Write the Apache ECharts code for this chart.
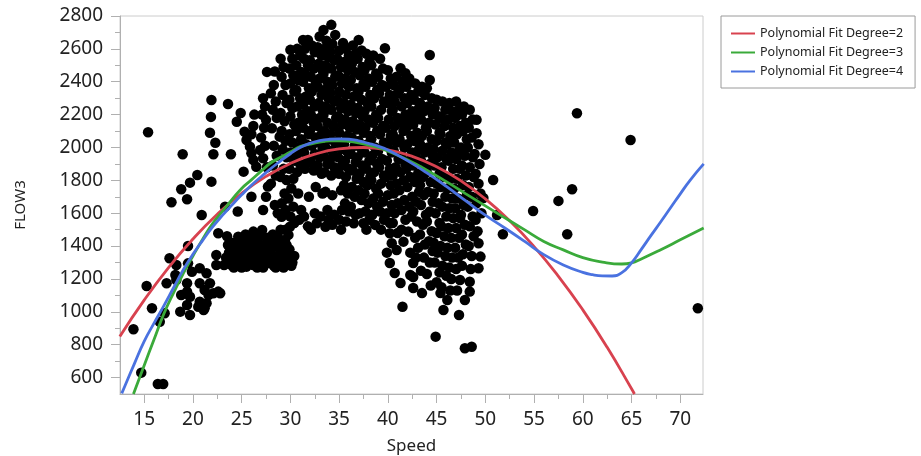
<!DOCTYPE html>
<html><head><meta charset="utf-8">
<script src="https://cdn.jsdelivr.net/npm/echarts@6/dist/echarts.min.js"></script>
<style>html,body{margin:0;padding:0;background:#fff}#c{width:921px;height:456px}</style>
</head><body><div id="c"></div>
<script>
// ---- tick values ----
const xTicks = [15,20,25,30,35,40,45,50,55,60,65,70];
const xMinorTicks = [17.5,22.5,27.5,32.5,37.5,42.5,47.5,52.5,57.5,62.5,67.5];
const yTicks = [600,800,1000,1200,1400,1600,1800,2000,2200,2400,2600,2800];
const yMinorTicks = [700,900,1100,1300,1500,1700,1900,2100,2300,2500,2700];

// ---- scatter points [Speed, FLOW3] ----
const leftPts = [[13.9,894],[14.7,630],[16.4,561],[16.95,561],[15.25,1157],[15.8,1022],[15.4,2093],[16.6,940],[17.1,991],[17.3,1174],[17.6,1326],[17.8,1667],[18.3,1194],[18.3,1285],[18.2,1224],[18.7,1001],[18.8,1102],[18.8,1746],[18.95,1959],[19.4,1123],[19.4,1042],[19.4,1174],[19.4,1685],[19.5,1401],[19.5,1295],[19.7,981],[19.7,1092],[19.7,1786],[19.9,1244],[20.45,1833],[20.7,1062],[20.7,1174],[20.7,1265],[20.9,1589],[21.1,1011],[21.2,1022],[21.2,1133],[21.4,1235],[21.4,1052],[21.6,1102],[21.75,1174],[21.75,2090],[21.85,2186],[21.9,2289],[21.9,1792],[22.1,1959],[22.1,1113],[22.3,2029],[22.4,1346],[22.4,1285],[22.6,1478],[22.6,1123],[22.8,1113],[20.55,1031]];
const lowLobePts = [[23.2,1285],[23.6,1407],[23.4,1330],[24.1,1356],[23.95,1285],[24.4,1295],[24.8,1417],[24.65,1457],[24.9,1376],[24.3,1320],[24.8,1295],[25.5,1275],[25.7,1356],[25.2,1376],[25.5,1437],[25.1,1300],[25.8,1410],[25.4,1470],[26.2,1285],[26.5,1336],[26.5,1396],[26.2,1437],[26.2,1488],[26.4,1376],[26.8,1310],[26.9,1460],[26.9,1295],[27.6,1295],[27.9,1366],[27.1,1498],[28.4,1427],[27.4,1330],[27.2,1270],[27.6,1450],[27.9,1376],[28.25,1316],[28.9,1295],[28.6,1396],[29.1,1356],[28.3,1280],[28.7,1460],[29.6,1295],[29.6,1336],[29.6,1407],[29.45,1437],[29.8,1468],[29.95,1518],[29.1,1579],[29.3,1270],[29.2,1370],[29.5,1500],[30.2,1300],[30.4,1340],[30.1,1280],
[23.5,1460],[23.8,1300],[24.0,1420],[24.3,1380],[24.6,1340],[25.0,1440],[25.3,1320],[25.9,1300],[26.0,1340],[26.7,1420],[26.0,1460],[27.0,1360],[27.3,1400],[27.7,1320],[28.0,1420],[28.2,1470],[28.6,1340],[28.9,1400],[29.3,1320],[29.9,1380],[29.0,1500],[28.5,1270],[26.6,1270],[25.0,1270],[24.2,1270],[23.7,1360]];
const midLeftPts = [[23.3,1640],[23.6,2265],[23.9,1959],[24.5,2157],[24.9,2210],[25.2,1853],[25.3,2096],[25.5,2046],[25.85,2005],[26.0,1965],[26.2,1924],[26.5,1883],[26.2,2131],[26.3,2200],[26.0,2080],[26.0,1700],[24.6,1610]];
const upperBlobPts = [
[27.2,2300],[27.4,2250],[27.1,2200],[27.5,2168],[27.3,2120],[27.6,2460],[27.0,2060],[27.4,2010],[27.2,1934],[27.6,1880],[26.9,1985],[27.7,1762],[27.5,1700],[27.2,1620],
[28.1,2117],[28.4,2462],[28.3,2380],[28.0,2330],[28.5,2280],[28.2,2230],[28.6,2180],[28.9,2066],[28.3,2010],[28.6,1950],[28.2,1890],[28.5,1830],[28.0,1780],[28.4,1650],[28.7,1600],
[29.0,2540],[29.3,2490],[29.1,2430],[29.5,2380],[29.2,2320],[29.6,2270],[29.0,2210],[29.4,2160],[29.1,2100],[29.5,2040],[29.2,1990],[29.6,1940],[29.3,1870],[29.0,1820],[29.6,1802],[29.4,1720],[29.1,1660],[29.5,1620],
[30.0,2594],[30.2,2540],[29.9,2480],[30.3,2440],[30.0,2390],[30.4,2340],[29.9,2290],[30.2,2240],[30.0,2190],[30.4,2140],[29.9,2080],[30.2,2030],[30.0,1970],[30.4,1920],[29.9,1870],[30.3,1810],[30.1,1750],[29.8,1690],[30.3,1640],[30.0,1580],[30.4,1540],
[30.7,2600],[31.0,2560],[30.6,2500],[31.1,2460],[30.8,2410],[30.6,2350],[31.0,2300],[30.7,2250],[31.2,2200],[30.8,2150],[30.6,2100],[31.1,2050],[30.8,2000],[30.6,1950],[31.0,1900],[30.7,1850],[30.8,1720],[31.1,1620],[30.9,1560],
[31.3,2654],[31.8,2654],[31.5,2600],[31.4,2540],[31.8,2500],[31.5,2450],[31.3,2400],[31.9,2360],[31.6,2310],[31.3,2260],[31.8,2220],[31.5,2170],[31.3,2120],[31.9,2080],[31.6,2020],[31.4,1970],[31.8,1920],[31.5,1870],[31.9,1700],[31.4,1580],[31.8,1520],
[32.2,2620],[32.5,2580],[32.0,2530],[32.4,2480],[32.1,2430],[32.6,2390],[32.2,2340],[32.0,2290],[32.5,2250],[32.1,2200],[32.4,2150],[32.0,2100],[32.6,2060],[32.2,2010],[32.5,1960],[32.1,1910],[32.4,1860],[32.6,1760],[32.5,1600],[32.7,1539],[32.1,1500],
[33.0,2675],[32.8,2610],[33.2,2560],[32.9,2510],[33.3,2470],[33.0,2420],[32.8,2370],[33.2,2320],[32.9,2270],[33.3,2230],[33.0,2180],[32.8,2130],[33.2,2080],[32.9,2030],[33.3,1990],[33.0,1940],[32.8,1890],[33.2,1840],[33.3,1720],[33.6,1518],[33.1,1580],
[33.4,2715],[33.7,2650],[33.5,2600],[33.9,2550],[33.6,2500],[33.4,2450],[33.8,2400],[33.5,2350],[33.9,2300],[33.6,2250],[33.4,2200],[33.8,2150],[33.5,2100],[33.9,2050],[33.6,2000],[33.4,1950],[33.8,1900],[33.5,1850],[33.6,1730],[33.8,1620],[33.9,1560],
[34.2,2746],[34.6,2685],[34.3,2630],[34.1,2580],[34.5,2530],[34.2,2480],[34.6,2430],[34.3,2380],[34.1,2330],[34.5,2280],[34.2,2230],[34.7,2180],[34.4,2130],[34.1,2080],[34.6,2030],[34.3,1980],[34.1,1930],[34.5,1880],[34.2,1830],[34.3,1710],[34.5,1590],[34.3,1530],
[35.4,2636],[35.0,2590],[34.8,2540],[35.2,2490],[34.9,2440],[35.3,2390],[35.0,2340],[34.8,2290],[35.2,2240],[34.9,2190],[35.3,2140],[35.0,2090],[34.8,2040],[35.2,1990],[34.9,1940],[35.3,1890],[35.0,1840],[35.2,1740],[35.3,1620],[35.0,1560],[35.2,1500]
];
const coreBlobPts = [
[35.7,2600],[36.0,2560],[35.5,2520],[35.9,2470],[35.6,2420],[36.0,2370],[35.7,2320],[35.5,2270],[35.9,2220],[35.6,2170],[36.1,2120],[35.8,2070],[35.5,2020],[35.9,1970],[35.6,1920],[36.0,1870],[35.7,1820],[35.5,1770],[35.9,1720],[35.6,1660],[36.0,1610],[35.7,1550],
[36.4,2620],[36.7,2570],[36.3,2510],[36.6,2460],[36.2,2410],[36.8,2360],[36.5,2310],[36.2,2260],[36.7,2210],[36.4,2160],[36.8,2110],[36.3,2060],[36.6,2010],[36.2,1960],[36.7,1910],[36.4,1860],[36.8,1810],[36.3,1760],[36.6,1700],[36.2,1640],[36.7,1590],[36.5,1539],
[37.0,2654],[37.3,2590],[36.9,2540],[37.4,2490],[37.1,2440],[37.5,2390],[37.0,2340],[37.3,2290],[36.9,2240],[37.4,2190],[37.1,2140],[37.5,2090],[37.0,2040],[37.3,1990],[36.9,1940],[37.4,1890],[37.1,1840],[37.5,1790],[37.0,1740],[37.3,1680],[37.5,1539],[37.1,1600],
[37.8,2570],[38.1,2520],[37.6,2470],[38.0,2420],[37.7,2370],[38.2,2320],[37.9,2270],[37.6,2220],[38.0,2170],[37.7,2120],[38.2,2070],[37.9,2020],[37.6,1970],[38.1,1920],[37.8,1870],[38.2,1820],[37.9,1770],[37.6,1720],[38.0,1660],[37.7,1610],[38.1,1560],[37.8,1500],
[38.5,2560],[38.3,2500],[38.8,2450],[38.4,2400],[38.9,2350],[38.6,2300],[38.3,2250],[38.8,2200],[38.5,2150],[38.9,2100],[38.3,2050],[38.7,2000],[38.4,1950],[38.9,1900],[38.6,1850],[38.3,1800],[38.8,1750],[38.5,1690],[38.9,1640],[38.4,1590],[38.7,1529],
[39.7,2604],[39.2,2540],[39.5,2480],[39.0,2430],[39.4,2380],[39.1,2330],[39.6,2280],[39.3,2230],[39.0,2180],[39.5,2130],[39.2,2080],[39.6,2030],[39.0,1980],[39.4,1930],[39.1,1880],[39.6,1830],[39.3,1780],[39.0,1720],[39.5,1670],[39.2,1610],[39.6,1560],[39.3,1500],
[40.0,2470],[40.3,2420],[39.8,2370],[40.2,2320],[39.9,2270],[40.4,2220],[40.1,2170],[39.8,2120],[40.3,2070],[40.0,2020],[40.4,1970],[39.9,1920],[40.2,1870],[39.8,1820],[40.3,1770],[40.0,1710],[40.4,1650],[39.9,1600],[40.2,1540],[40.2,1478],[40.4,1417],[39.9,1360],[40.2,1297],[40.7,1236],
[40.9,2431],[40.6,2380],[41.0,2330],[40.7,2280],[40.5,2230],[41.0,2180],[40.7,2130],[40.5,2080],[40.9,2030],[40.6,1980],[41.1,1930],[40.8,1880],[40.5,1830],[40.9,1780],[40.6,1720],[41.0,1660],[40.7,1600],[40.5,1540],[40.9,1376],[41.0,1480],
[41.3,2482],[41.8,2452],[41.5,2400],[41.2,2350],[41.7,2300],[41.4,2250],[41.8,2200],[41.3,2150],[41.6,2100],[41.2,2050],[41.7,2000],[41.4,1950],[41.8,1900],[41.3,1850],[41.6,1800],[41.2,1740],[41.7,1680],[41.4,1620],[41.8,1560],[41.6,1427],[41.3,1175],[41.5,1031],[41.4,1500],
[42.2,2420],[41.9,2370],[42.4,2320],[42.0,2270],[42.5,2220],[42.1,2170],[41.9,2120],[42.4,2070],[42.0,2020],[42.5,1970],[42.2,1920],[41.9,1870],[42.3,1820],[42.0,1760],[42.5,1700],[42.2,1640],[42.4,1580],[42.1,1488],[42.6,1297],[42.6,1212],[42.6,1145],[42.3,1224],[42.3,1360]
];
const rightLobePts = [
[42.8,2390],[43.1,2340],[42.7,2290],[43.2,2240],[42.9,2190],[42.6,2140],[43.0,2090],[42.7,2040],[43.2,1990],[42.9,1940],[42.6,1890],[43.1,1840],[42.8,1790],[43.2,1730],[42.9,1670],[42.6,1610],[43.0,1550],[42.8,1450],[43.1,1390],[42.9,1330],
[43.5,2370],[43.8,2320],[43.3,2270],[43.7,2220],[43.4,2170],[43.9,2120],[43.5,2070],[43.3,2020],[43.8,1970],[43.4,1920],[43.9,1870],[43.6,1820],[43.3,1770],[43.7,1710],[43.4,1650],[43.9,1590],[43.6,1530],[43.3,1470],[43.8,1410],[43.5,1114],[43.4,1250],[43.7,1330],
[44.3,2563],[44.3,2411],[44.0,2360],[44.5,2300],[44.1,2250],[44.6,2200],[44.2,2150],[44.0,2100],[44.5,2050],[44.1,2000],[44.6,1950],[44.3,1900],[44.0,1850],[44.4,1790],[44.1,1730],[44.6,1670],[44.3,1610],[44.0,1550],[44.5,1490],[44.2,1430],[44.6,1370],[44.3,1300],[44.0,1230],[44.4,1160],
[45.0,2290],[44.8,2240],[45.2,2190],[44.9,2140],[45.3,2090],[45.0,2040],[44.7,1990],[45.1,1940],[44.8,1890],[45.3,1840],[45.0,1780],[44.7,1720],[45.2,1660],[44.9,1600],[45.3,1540],[45.0,1480],[44.7,1420],[45.1,1360],[44.8,1300],[45.3,1240],[45.4,1114],[44.9,849],[45.0,1180],
[45.6,2280],[45.9,2230],[45.5,2180],[45.8,2130],[45.4,2080],[45.9,2030],[45.6,1980],[46.0,1930],[45.5,1880],[45.8,1820],[45.4,1760],[45.9,1700],[45.6,1640],[46.0,1580],[45.5,1520],[45.8,1460],[45.4,1400],[45.9,1340],[45.6,1280],[46.0,1220],[45.7,1011],[45.5,1150],
[46.3,2270],[46.6,2220],[46.2,2170],[46.7,2120],[46.4,2070],[46.1,2020],[46.5,1970],[46.2,1920],[46.7,1870],[46.4,1810],[46.1,1750],[46.6,1690],[46.3,1630],[46.7,1570],[46.2,1510],[46.5,1450],[46.1,1390],[46.6,1330],[46.3,1270],[46.1,1072],[46.5,1200],[46.4,1130],
[47.0,2280],[47.3,2230],[46.9,2180],[47.4,2130],[47.1,2080],[46.8,2030],[47.3,1980],[47.0,1930],[47.4,1870],[47.1,1810],[46.8,1750],[47.2,1690],[46.9,1630],[47.4,1570],[47.0,1510],[47.3,1450],[46.9,1390],[47.2,1330],[47.4,1194],[47.3,981],[47.0,1260],[47.1,1130],
[47.8,2250],[47.6,2200],[48.0,2150],[47.7,2100],[48.1,2050],[47.5,2000],[47.9,1950],[47.6,1890],[48.0,1830],[47.7,1770],[48.1,1710],[47.8,1650],[47.5,1590],[47.9,1530],[47.6,1470],[48.0,1410],[47.7,1350],[47.9,1072],[47.9,778],[47.6,1280],
[48.4,2230],[48.7,2170],[48.3,2120],[48.6,2060],[48.2,2000],[48.7,1940],[48.4,1880],[48.8,1820],[48.3,1760],[48.6,1700],[48.2,1640],[48.7,1580],[48.4,1520],[48.8,1460],[48.3,1400],[48.6,1340],[48.4,1123],[48.4,1183],[48.6,788],[48.5,1260],
[49.1,2168],[49.1,2087],[49.3,2020],[48.9,1960],[49.4,1900],[49.0,1840],[49.3,1780],[49.5,1720],[49.1,1660],[49.3,1417],[49.3,1265],[49.5,1336],[49.0,1560],[49.2,1490]
];
const outlierPts = [[50.0,1955],[50.8,1802],[49.8,1693],[51.2,1589],[51.8,1472],[54.9,1614],[57.5,1675],[58.9,1746],[58.4,1472],[59.4,2208],[64.9,2046],[71.8,1022],[49.6,1600]];

// ---- fitted curves [Speed, FLOW3] ----
const fit2 = [[12.5,850],[15,1071],[17.5,1269],[20,1443],[22.5,1594],[25,1721],[27.5,1824],[30,1903],[32.5,1959],[35,1991],[37.5,2000],[40,1985],[42.5,1946],[45,1883],[47.5,1797],[50,1687],[52.5,1554],[55,1397],[57.5,1216],[60,1012],[62.5,784],[65,532],[65.3,500]];
const fit3 = [[13.9,500],[15,674],[16,830],[17,985],[18,1114],[19,1232],[20,1340],[21,1442],[22,1536],[23,1609],[24,1682],[25,1751],[26,1803],[27,1856],[28,1907],[29,1940],[30,1972],[31,2005],[32,2020],[33,2032],[34,2040],[35,2041],[36,2037],[37,2028],[38,2015],[39,2000],[40,1978],[42,1925],[44,1862],[46,1792],[48,1718],[50,1645],[52,1572],[54,1500],[56,1428],[58,1377],[60,1330],[62,1303],[64,1291],[65,1298],[66,1322],[68,1378],[70,1438],[72.4,1510]];
const fit4 = [[12.7,504],[13,546],[14,685],[15,820],[16,930],[17,1035],[18,1145],[19,1255],[20,1350],[21,1435],[22,1515],[23,1585],[24,1650],[25,1712],[26,1770],[27,1822],[28,1872],[29,1918],[30,1962],[31,2000],[32,2025],[33,2042],[34,2050],[35,2052],[36,2050],[37,2040],[38,2025],[39,2008],[40,1985],[42,1920],[44,1845],[46,1763],[48,1675],[50,1588],[52,1510],[54,1430],[56,1348],[58,1285],[60,1240],[61,1226],[62,1219],[63,1218],[64,1238],[65,1298],[66,1380],[67,1465],[68,1548],[69,1633],[70,1718],[71,1800],[72.4,1900]];

const seriesNames = ['Polynomial Fit Degree=2','Polynomial Fit Degree=3','Polynomial Fit Degree=4'];
const seriesColors = ['#d8424f','#3aaa3a','#4a72e0'];

const allPts = [].concat(leftPts, lowLobePts, midLeftPts, upperBlobPts, coreBlobPts, rightLobePts, outlierPts);
const FONT = 'Noto Sans';
const axisGray = '#b0b0b0';
const chart = echarts.init(document.getElementById('c'), null, {renderer:'canvas'});
const fits = [fit2, fit3, fit4];
chart.setOption({
  animation: false,
  backgroundColor: '#fff',
  grid: {left:120, right:218, top:16, bottom:62, containLabel:false, outerBoundsMode:'none',
         show:true, borderColor:'#cccccc', borderWidth:1},
  legend: {
    orient:'vertical', left:721, top:16, padding:[11,12,10,10], itemGap:6,
    itemWidth:24, itemHeight:2, icon:'rect',
    borderColor:'#9a9a9a', borderWidth:1,
    textStyle:{fontFamily:FONT, fontSize:12.5, color:'#222'},
    data: seriesNames
  },
  xAxis: [
    {type:'value', min:12.52, max:72.33, name:'Speed', nameLocation:'middle', nameGap:44,
     nameTextStyle:{fontFamily:FONT, fontSize:17, color:'#222'},
     axisLine:{lineStyle:{color:axisGray}},
     axisTick:{customValues:xTicks, length:9, lineStyle:{color:axisGray}},
     axisLabel:{customValues:xTicks, fontFamily:FONT, fontSize:19, color:'#222', margin:16},
     splitLine:{show:false}},
    {type:'value', min:12.52, max:72.33, position:'bottom',
     axisLine:{show:false},
     axisTick:{customValues:xMinorTicks, length:5, lineStyle:{color:axisGray}},
     axisLabel:{show:false}, splitLine:{show:false}}
  ],
  yAxis: [
    {type:'value', min:500, max:2800, name:'FLOW3', nameLocation:'middle', nameGap:92,
     nameTextStyle:{fontFamily:FONT, fontSize:15, color:'#222'},
     axisLine:{show:true, lineStyle:{color:axisGray}},
     axisTick:{show:true, customValues:yTicks, length:9, lineStyle:{color:axisGray}},
     axisLabel:{customValues:yTicks, formatter:(v)=>String(v), fontFamily:FONT, fontSize:19, color:'#222', margin:17},
     splitLine:{show:false}},
    {type:'value', min:500, max:2800, position:'left',
     axisLine:{show:false},
     axisTick:{show:true, customValues:yMinorTicks, length:5, lineStyle:{color:axisGray}},
     axisLabel:{show:false}, splitLine:{show:false}}
  ],
  series: [
    {type:'scatter', name:'FLOW3', data: allPts, symbolSize:10.5, itemStyle:{color:'#000', opacity:1}, silent:true, z:2}
  ].concat(fits.map((d,i)=>({
    type:'line', name:seriesNames[i], data:d, smooth:true, showSymbol:false, symbol:'none',
    clip:true, lineStyle:{color:seriesColors[i], width:2.8}, itemStyle:{color:seriesColors[i]}, z:3
  })))
});
</script></body></html>
